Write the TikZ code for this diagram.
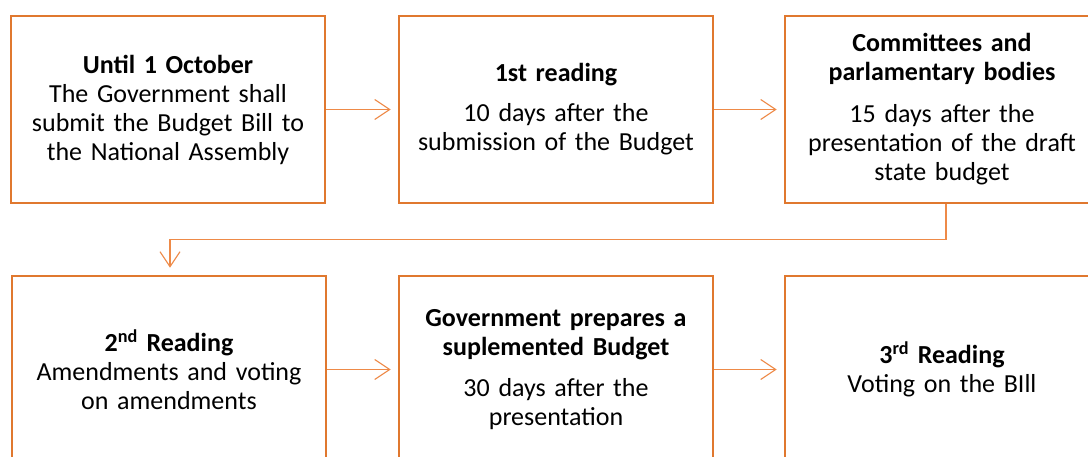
\documentclass[tikz,border=0pt]{standalone}
\usepackage{fontspec}
\setmainfont{Carlito}
\usetikzlibrary{arrows.meta}
\definecolor{boxline}{HTML}{E0782F}
\definecolor{linkline}{HTML}{EE8A48}
\begin{document}
\begin{tikzpicture}[x=1pt,y=1pt,
  stage/.style={draw=boxline, line width=2.6pt, fill=white,
    minimum width=314pt, minimum height=187pt, text width=300pt,
    align=center, inner sep=0pt,
    font=\fontsize{26}{29}\selectfont},
  link/.style={draw=linkline, line width=1.1pt,
    -{Straight Barb[length=15pt,width=20pt,line width=1.1pt]}, shorten >=7pt}]
\useasboundingbox (0,0) rectangle (1088,457);
\clip (0,0) rectangle (1088,457);
\fill[white] (0,0) rectangle (1088,457);

% top row
\node[stage] (b1) at (168,347.5) {\textbf{Until 1 October}\\The Government shall\\submit the Budget Bill to\\the National Assembly};
\node[stage] (b2) at (556,347.5) {\textbf{1st reading}\\[11pt]10 days after the\\submission of the Budget};
\node[stage] (b3) at (942,347.5) {\textbf{Committees and}\\\textbf{parlamentary bodies}\\[13pt]15 days after the\\presentation of the draft\\state budget};

% bottom row
\node[stage] (b4) at (169,87.5) {\textbf{2\textsuperscript{nd} Reading}\\Amendments and voting\\on amendments};
\node[stage] (b5) at (556,87.5) {\textbf{Government prepares a}\\\textbf{suplemented Budget}\\[12pt]30 days after the\\presentation};
\node[stage] (b6) at (942,87.5) {\textbf{3\textsuperscript{rd} Reading}\\Voting on the BIll};

% connectors
\draw[link] (b1.east) -- (b2.west);
\draw[link] (b2.east) -- (b3.west);
\draw[link] ([xshift=4pt]b3.south) -- ++(0,-35) -| ([xshift=1pt]b4.north);
\draw[link] (b4.east) -- (b5.west);
\draw[link] (b5.east) -- (b6.west);
\end{tikzpicture}
\end{document}
